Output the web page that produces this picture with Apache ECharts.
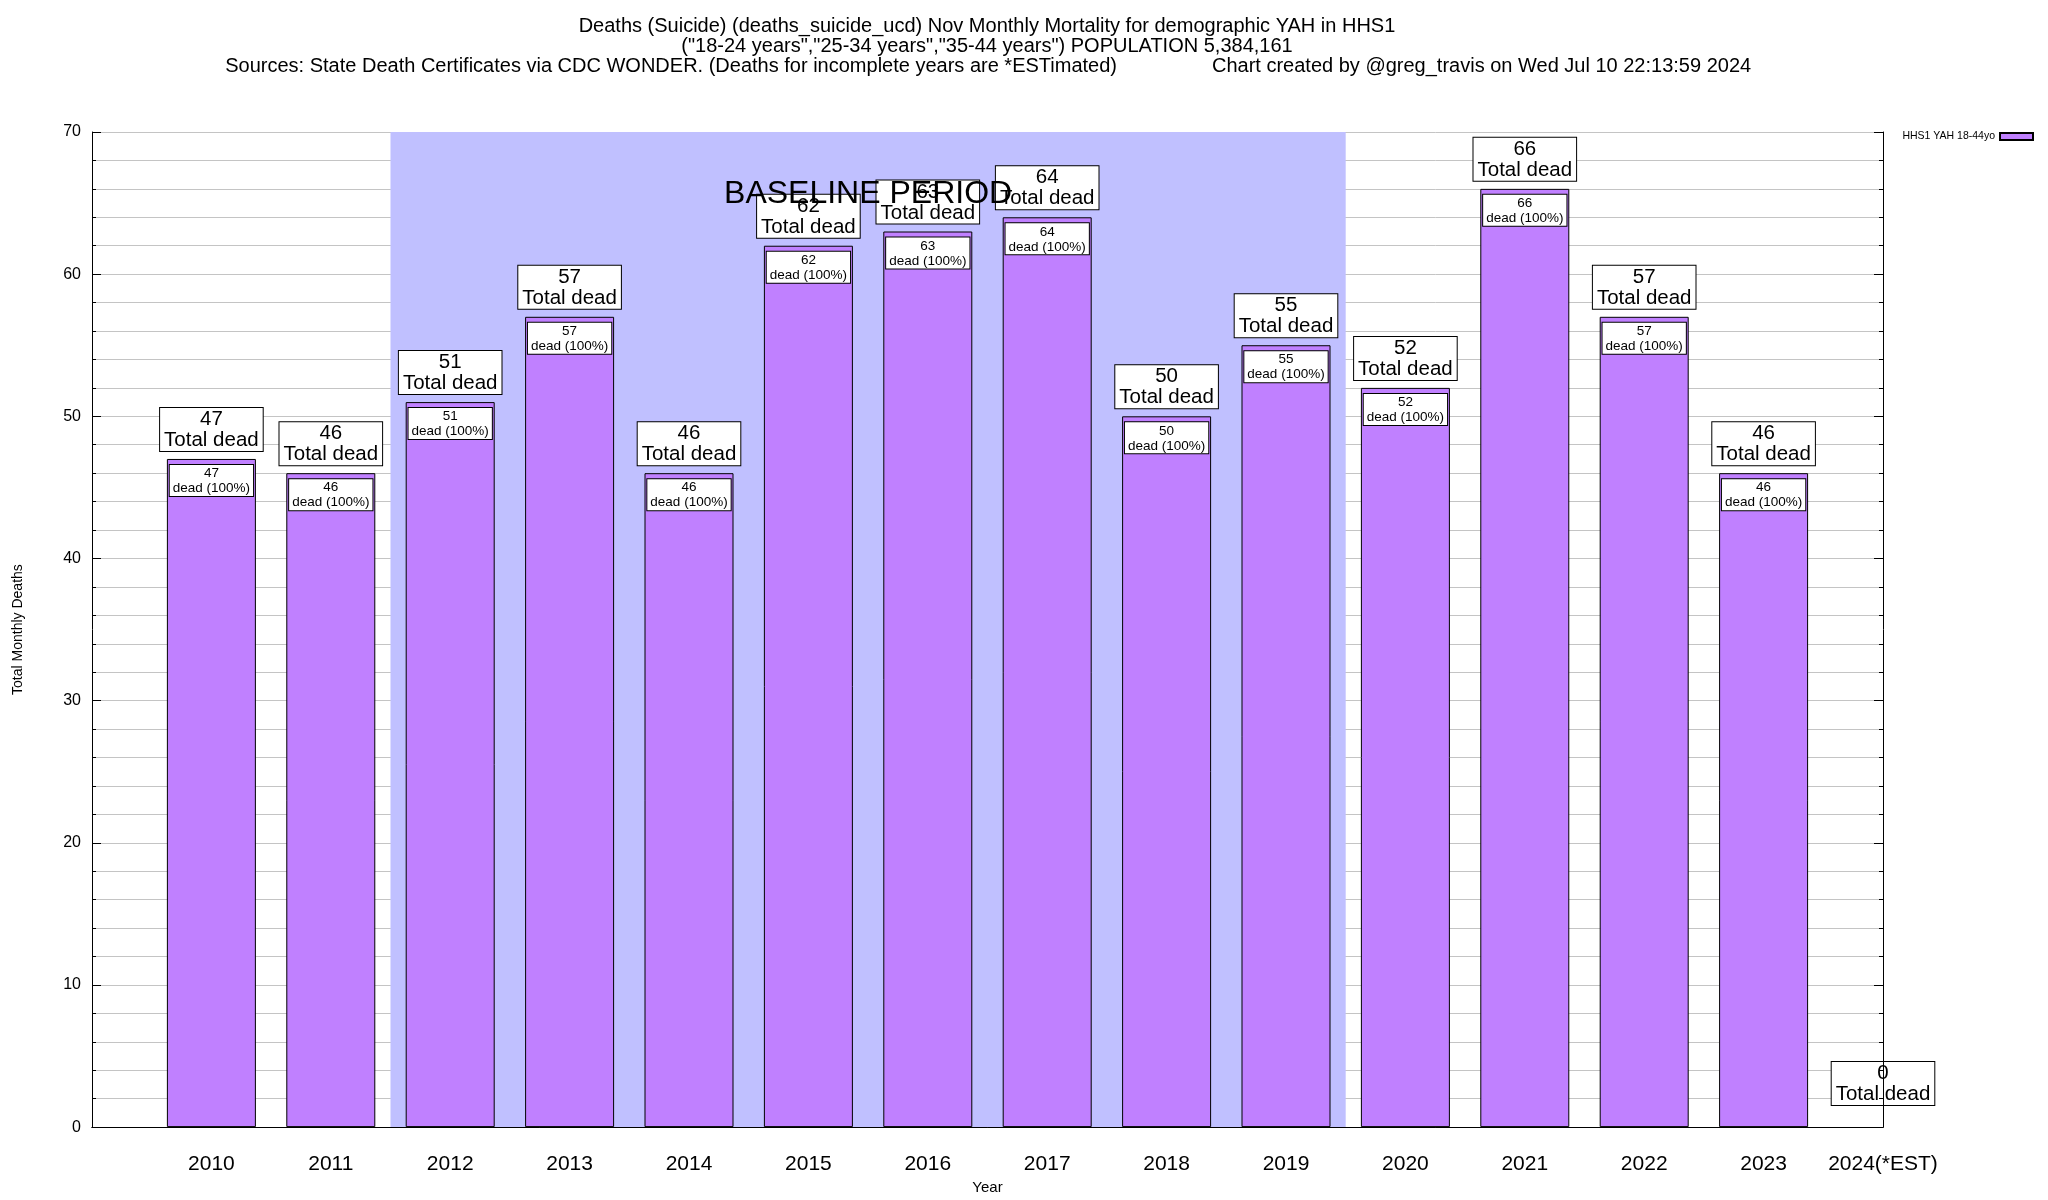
<!DOCTYPE html>
<html>
<head>
<meta charset="utf-8">
<title>Deaths (Suicide) HHS1 YAH</title>
<script src="https://cdn.jsdelivr.net/npm/echarts@6/dist/echarts.min.js"></script>
<style>
html,body{margin:0;padding:0;background:#fff;}
#chart{width:2048px;height:1200px;}
</style>
</head>
<body>
<div id="chart"></div>
<script>
// ---- data ----
const years = [2010, 2011, 2012, 2013, 2014, 2015, 2016, 2017, 2018, 2019, 2020, 2021, 2022, 2023, 2024];
const yearLabels = ['2010','2011','2012','2013','2014','2015','2016','2017','2018','2019','2020','2021','2022','2023','2024(*EST)'];
const deaths = [47, 46, 51, 57, 46, 62, 63, 64, 50, 55, 52, 66, 57, 46, 0];
const seriesName = 'HHS1 YAH 18-44yo';
const baselineRange = [2011.5, 2019.5];
const baselineText = 'BASELINE PERIOD';
const baselineTextY = 65.6;
const yTicks = [0, 10, 20, 30, 40, 50, 60, 70];

const FONT = "'Liberation Sans', Arial, Helvetica, sans-serif";
const chart = echarts.init(document.getElementById('chart'));

const labelFor = {};
years.forEach((y, i) => { labelFor[y] = yearLabels[i]; });

const barData = years.map((y, i) => {
  const item = { value: [y, deaths[i]] };
  if (deaths[i] === 0) {
    item.label = { distance: 22 };
    item.itemStyle = { borderWidth: 0 };
  }
  return item;
});
const innerData = years.map((y, i) => {
  const item = { value: [y, deaths[i]] };
  if (deaths[i] === 0) item.label = { show: false };
  return item;
});

const titleStyle = { fontFamily: FONT, fontSize: 20, fontWeight: 'normal', color: '#000' };

const option = {
  animation: false,
  backgroundColor: '#ffffff',
  textStyle: { fontFamily: FONT },
  title: [
    { text: 'Deaths (Suicide) (deaths_suicide_ucd) Nov Monthly Mortality for demographic YAH in HHS1',
      left: 987, top: 16, textAlign: 'center', padding: 0, textStyle: titleStyle },
    { text: '("18-24 years","25-34 years","35-44 years") POPULATION 5,384,161',
      left: 987, top: 36, textAlign: 'center', padding: 0, textStyle: titleStyle },
    { text: 'Sources: State Death Certificates via CDC WONDER. (Deaths for incomplete years are *ESTimated)',
      left: 1117, top: 56, textAlign: 'right', padding: 0, textStyle: titleStyle },
    { text: 'Chart created by @greg_travis on Wed Jul 10 22:13:59 2024',
      left: 1212, top: 56, textAlign: 'left', padding: 0, textStyle: titleStyle }
  ],
  legend: {
    data: [seriesName],
    right: 14, top: 131, padding: 0,
    align: 'right',
    itemWidth: 33, itemHeight: 7, itemGap: 8,
    icon: 'rect',
    textStyle: { fontFamily: FONT, fontSize: 10.5, color: '#000' },
    selectedMode: false
  },
  grid: { left: 92, right: 165, top: 132, bottom: 68, containLabel: false },
  xAxis: [
    {
      type: 'value', min: 2009, max: 2024, interval: 1,
      position: 'bottom',
      name: 'Year', nameLocation: 'middle', nameGap: 48,
      nameTextStyle: { fontFamily: FONT, fontSize: 15, color: '#000' },
      axisLine: { show: true, lineStyle: { color: '#000', width: 1 } },
      axisTick: { show: false },
      splitLine: { show: false },
      axisLabel: {
        margin: 27, fontFamily: FONT, fontSize: 21, color: '#000',
        showMinLabel: true, showMaxLabel: true,
        formatter: v => labelFor[v] || ''
      },
      z: 1
    },
    {
      type: 'value', min: 2009, max: 2024, interval: 1,
      position: 'top',
      axisLine: { show: true, lineStyle: { color: '#000', width: 1 } },
      axisTick: { show: false }, axisLabel: { show: false }, splitLine: { show: false },
      z: 10
    }
  ],
  yAxis: [
    {
      type: 'value', min: 0, max: 70, interval: 10,
      position: 'left',
      name: 'Total Monthly Deaths', nameLocation: 'middle', nameGap: 67, nameRotate: 90,
      nameTextStyle: { fontFamily: FONT, fontSize: 14, color: '#000' },
      axisLine: { show: true, lineStyle: { color: '#000', width: 1 } },
      axisTick: { show: true, inside: true, length: 9, lineStyle: { color: '#000' } },
      minorTick: { show: true, splitNumber: 5, length: 4, lineStyle: { color: '#000' } },
      splitLine: { show: true, lineStyle: { color: '#c4c4c4', width: 1 } },
      minorSplitLine: { show: true, lineStyle: { color: '#c4c4c4', width: 1 } },
      axisLabel: { margin: 11, fontFamily: FONT, fontSize: 16, color: '#000',
        formatter: v => (yTicks.indexOf(v) >= 0 ? String(v) : '') },
      z: 1
    },
    {
      type: 'value', min: 0, max: 70, interval: 10,
      position: 'right',
      axisLine: { show: true, lineStyle: { color: '#000', width: 1 } },
      axisTick: { show: true, inside: true, length: 9, lineStyle: { color: '#000' } },
      minorTick: { show: true, splitNumber: 5, length: 4, lineStyle: { color: '#000' } },
      splitLine: { show: false },
      axisLabel: { show: false },
      z: 10
    }
  ],
  series: [
    {
      name: 'baseline',
      type: 'line',
      data: [],
      z: 0,
      silent: true,
      markArea: {
        silent: true,
        itemStyle: { color: '#c0c0ff', opacity: 1 },
        data: [[{ xAxis: baselineRange[0], yAxis: 0 }, { xAxis: baselineRange[1], yAxis: 70 }]]
      }
    },
    {
      name: seriesName,
      type: 'bar',
      data: barData,
      barWidth: 89,
      barGap: '-100%',
      z: 2,
      itemStyle: { color: '#c080ff', borderColor: '#000', borderWidth: 1 },
      emphasis: { disabled: true },
      label: {
        show: true, position: 'top', distance: 8,
        formatter: p => p.value[1] + '\nTotal dead',
        fontFamily: FONT, fontSize: 20.5, lineHeight: 21, color: '#000',
        backgroundColor: '#fff', borderColor: '#000', borderWidth: 1,
        padding: [1, 4, 0, 4], align: 'center'
      }
    },
    {
      name: 'inner',
      type: 'bar',
      data: innerData,
      barWidth: 89,
      barGap: '-100%',
      z: 3,
      silent: true,
      itemStyle: { color: 'rgba(0,0,0,0)', borderWidth: 0 },
      emphasis: { disabled: true },
      label: {
        show: true, position: 'insideTop', distance: 6,
        formatter: p => p.value[1] + '\ndead (100%)',
        fontFamily: FONT, fontSize: 13.5, lineHeight: 15, color: '#000',
        backgroundColor: '#fff', borderColor: '#000', borderWidth: 1,
        padding: [1, 3, 0, 3], align: 'center'
      }
    },
    {
      name: 'baselineLabel',
      type: 'scatter',
      data: [[(baselineRange[0] + baselineRange[1]) / 2, baselineTextY]],
      symbolSize: 0,
      z: 20,
      silent: true,
      label: {
        show: true, position: 'inside', formatter: baselineText,
        fontFamily: FONT, fontSize: 32, color: '#000', opacity: 1,
        textBorderWidth: 0
      }
    }
  ]
};
chart.setOption(option);
</script>
</body>
</html>
